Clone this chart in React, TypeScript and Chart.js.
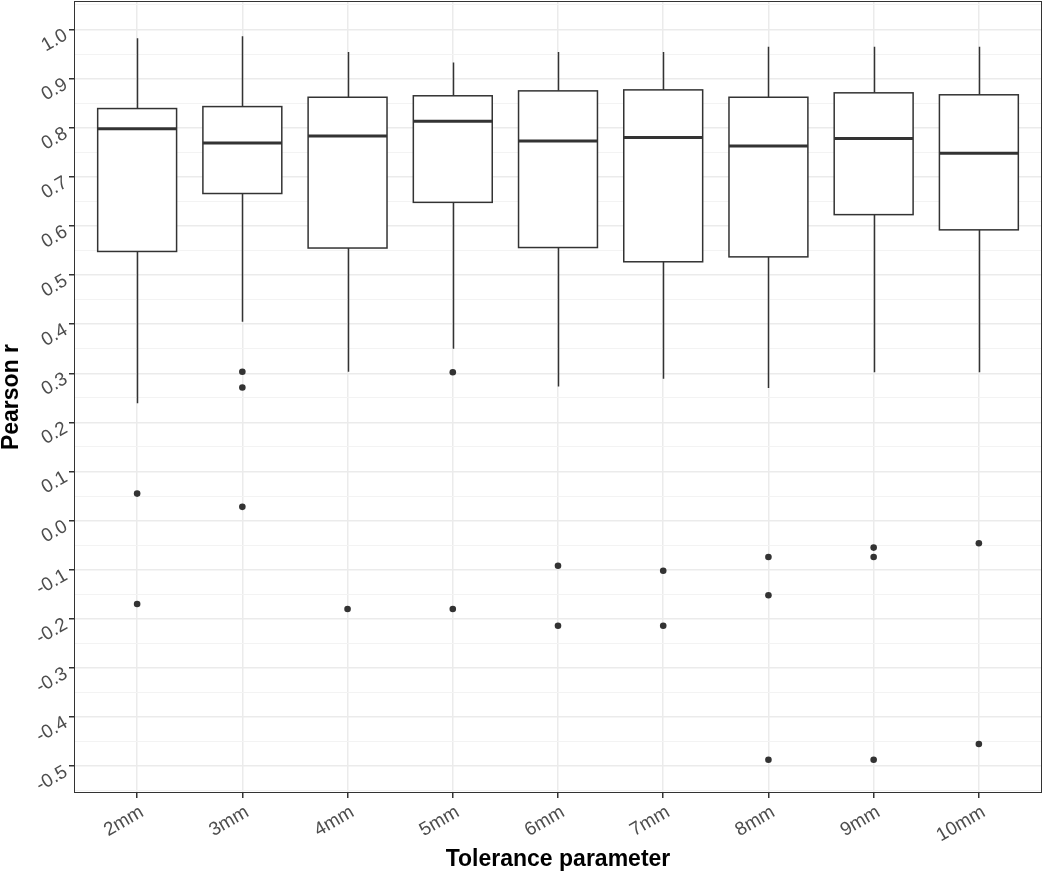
import React, { useEffect, useRef } from 'react';
import { Chart, registerables } from 'chart.js';

Chart.register(...registerables);

// ---- data ----
const categories = ['2mm', '3mm', '4mm', '5mm', '6mm', '7mm', '8mm', '9mm', '10mm'];
const whiskerLow = [0.239, 0.405, 0.303, 0.35, 0.273, 0.289, 0.27, 0.302, 0.302];
const q1 = [0.548, 0.666, 0.555, 0.648, 0.556, 0.527, 0.537, 0.623, 0.592];
const median = [0.798, 0.769, 0.783, 0.813, 0.773, 0.78, 0.763, 0.778, 0.748];
const q3 = [0.839, 0.843, 0.862, 0.865, 0.875, 0.877, 0.862, 0.871, 0.867];
const whiskerHigh = [0.982, 0.986, 0.954, 0.933, 0.954, 0.954, 0.965, 0.965, 0.965];
const outliers: number[][] = [
  [0.055, -0.17],
  [0.303, 0.271, 0.028],
  [-0.18],
  [0.302, -0.18],
  [-0.092, -0.214],
  [-0.102, -0.214],
  [-0.074, -0.152, -0.487],
  [-0.055, -0.074, -0.487],
  [-0.046, -0.455],
];
const yMin = -0.5547;
const yMax = 1.058;
const yStep = 0.05;
const xTitle = 'Tolerance parameter';
const yTitle = 'Pearson r';

const FONT = "'Liberation Sans', Arial, Helvetica, sans-serif";
const DARK = '#333333';
const BOX_WIDTH = 0.75;

const isMajor = (v: number) => Math.abs(Math.round(v * 10) - v * 10) < 1e-6;

const boxPlugin = {
  id: 'ggBoxes',
  beforeDatasetsDraw(chart: any) {
    const { ctx } = chart;
    const x = chart.scales.x;
    const y = chart.scales.y;
    ctx.save();
    categories.forEach((_, i) => {
      const pos = i + 1;
      const cx = Math.round(x.getPixelForValue(pos)) + 0.5;
      const left = x.getPixelForValue(pos - BOX_WIDTH / 2);
      const right = x.getPixelForValue(pos + BOX_WIDTH / 2);
      const yHi = y.getPixelForValue(whiskerHigh[i]);
      const yQ3 = y.getPixelForValue(q3[i]);
      const yMed = y.getPixelForValue(median[i]);
      const yQ1 = y.getPixelForValue(q1[i]);
      const yLo = y.getPixelForValue(whiskerLow[i]);
      ctx.strokeStyle = DARK;
      ctx.lineWidth = 1.5;
      ctx.beginPath();
      ctx.moveTo(cx, yHi);
      ctx.lineTo(cx, yQ3);
      ctx.moveTo(cx, yQ1);
      ctx.lineTo(cx, yLo);
      ctx.stroke();
      ctx.fillStyle = '#ffffff';
      ctx.fillRect(left, yQ3, right - left, yQ1 - yQ3);
      ctx.strokeRect(left, yQ3, right - left, yQ1 - yQ3);
      ctx.lineWidth = 3;
      ctx.beginPath();
      ctx.moveTo(left, yMed);
      ctx.lineTo(right, yMed);
      ctx.stroke();
    });
    ctx.restore();
  },
  afterDraw(chart: any) {
    const { ctx, chartArea } = chart;
    ctx.save();
    ctx.strokeStyle = DARK;
    ctx.lineWidth = 1;
    ctx.strokeRect(
      chartArea.left + 0.5,
      chartArea.top + 0.5,
      chartArea.right - chartArea.left - 1,
      chartArea.bottom - chartArea.top - 1
    );
    ctx.restore();
  },
};

export default function App() {
  const ref = useRef<HTMLCanvasElement | null>(null);

  useEffect(() => {
    if (!ref.current) return;
    const points: { x: number; y: number }[] = [];
    outliers.forEach((vals, i) => vals.forEach((v) => points.push({ x: i + 1, y: v })));

    const chart = new Chart(ref.current, {
      type: 'scatter',
      data: {
        datasets: [
          {
            data: points,
            pointRadius: 3.3,
            pointHoverRadius: 3.3,
            backgroundColor: DARK,
            borderWidth: 0,
            showLine: false,
          },
        ],
      },
      options: {
        responsive: false,
        animation: false,
        events: [],
        layout: { autoPadding: false, padding: { left: 0, right: 8, top: 1, bottom: 0 } },
        plugins: { legend: { display: false }, tooltip: { enabled: false } },
        scales: {
          x: {
            type: 'linear',
            min: 0.4,
            max: 9.6,
            afterFit: (s: any) => {
              s.height = 80;
              s.paddingLeft = 0;
              s.paddingRight = 0;
            },
            border: { display: false },
            grid: {
              color: '#EBEBEB',
              lineWidth: 1.5,
              tickColor: DARK,
              tickLength: 5,
              drawTicks: true,
            },
            ticks: {
              stepSize: 1,
              includeBounds: false,
              autoSkip: false,
              minRotation: 30,
              maxRotation: 30,
              padding: 3,
              labelOffset: 5,
              color: '#4D4D4D',
              font: { family: FONT, size: 19 },
              callback: (v: any) => categories[Math.round(Number(v)) - 1] ?? '',
            },
            title: {
              display: true,
              text: xTitle,
              color: '#000000',
              font: { family: FONT, size: 23, weight: 'bold', lineHeight: 1 },
              padding: { top: 0, bottom: 2 },
            },
          },
          y: {
            type: 'linear',
            min: yMin,
            max: yMax,
            afterFit: (s: any) => {
              s.width = 74;
              s.paddingTop = 0;
              s.paddingBottom = 0;
            },
            border: { display: false },
            grid: {
              color: (c: any) => (isMajor(c.tick.value) ? '#EBEBEB' : '#F3F3F3'),
              lineWidth: (c: any) => (isMajor(c.tick.value) ? 1.5 : 1),
              tickColor: (c: any) => (isMajor(c.tick.value) ? DARK : 'rgba(0,0,0,0)'),
              tickLength: 5,
              drawTicks: true,
            },
            ticks: {
              stepSize: yStep,
              includeBounds: false,
              autoSkip: false,
              minRotation: 30,
              maxRotation: 30,
              padding: 3,
              labelOffset: 4.5,
              color: '#4D4D4D',
              font: { family: FONT, size: 19 },
              callback: (v: any) => (isMajor(Number(v)) ? Number(v).toFixed(1) : ''),
            },
            title: {
              display: true,
              text: yTitle,
              color: '#000000',
              font: { family: FONT, size: 23, weight: 'bold', lineHeight: 1 },
              padding: { top: 0, bottom: 0 },
            },
          },
        },
      },
      plugins: [boxPlugin],
    } as any);
    return () => chart.destroy();
  }, []);

  return (
    <div style={{ position: 'absolute', left: 0, top: 0, width: 1050, height: 873, background: '#ffffff' }}>
      <canvas ref={ref} width={1050} height={873} style={{ display: 'block', width: 1050, height: 873 }} />
    </div>
  );
}
